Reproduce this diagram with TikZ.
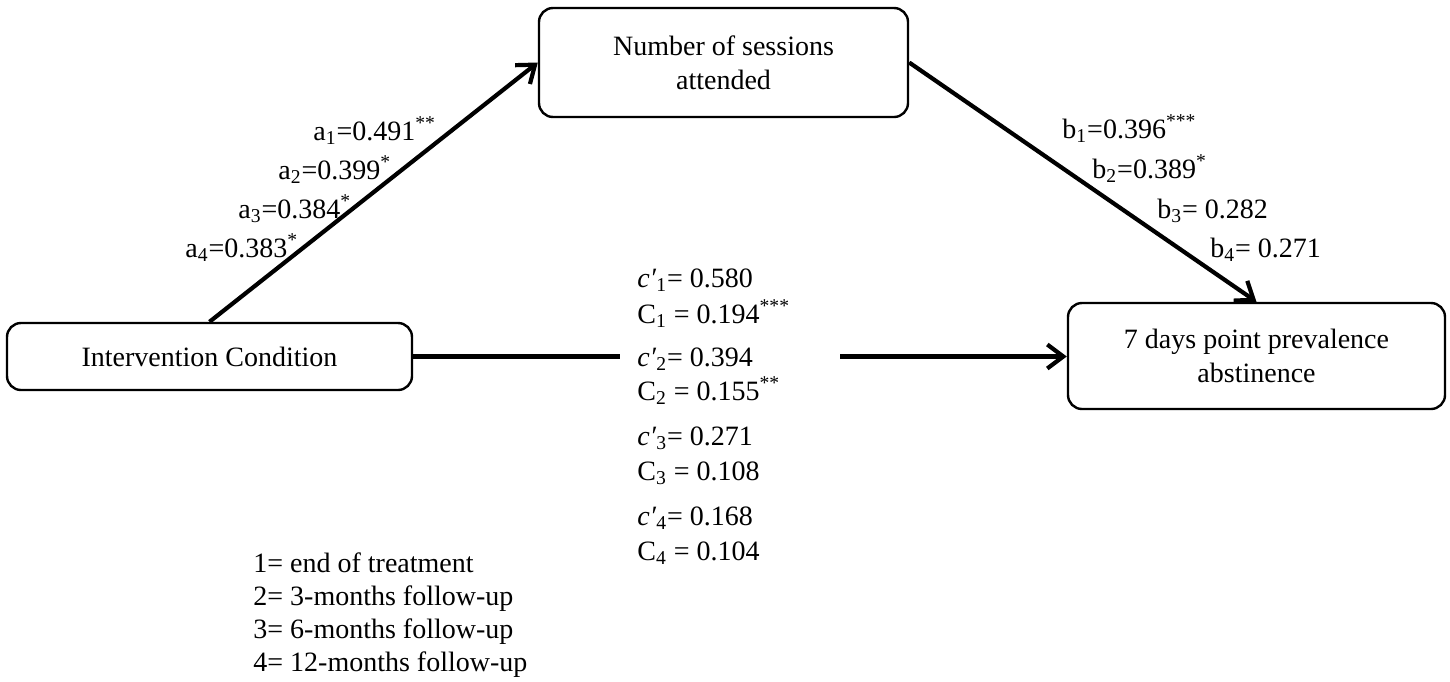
\documentclass[tikz,border=0pt]{standalone}
\usepackage{fontspec}
\setmainfont{Liberation Serif}
\usetikzlibrary{arrows.meta}
\begin{document}
\begin{tikzpicture}[x=0.5pt,y=-0.5pt,
  every node/.style={font=\fontsize{14}{17}\selectfont, inner sep=0pt},
  box/.style={draw, line width=1.2pt, rounded corners=7pt, align=center},
  lbl/.style={anchor=base west},
  link/.style={line width=2.1pt},
  conn/.style={link, -{Straight Barb[length=8pt,width=12pt]}}]
\useasboundingbox (0,0) rectangle (1450,681);
% boxes
\node[box, minimum width=202.5pt, minimum height=33.5pt] (ic) at (209.5,356.5) {Intervention Condition};
\node[box, minimum width=184.5pt, minimum height=54.5pt] (sess) at (723.5,62.5) {Number of sessions\\attended};
\node[box, minimum width=188.5pt, minimum height=53pt] (abst) at (1256.5,356) {7 days point prevalence\\abstinence};
% connectors
\draw[conn] (ic.north) -- (sess.west);
\draw[conn] (sess.east) -- (abst.north);
\coordinate (g1) at (620,356.5);
\coordinate (g2) at (840,356.5);
\draw[link] (ic.east) -- (g1);
\draw[conn] (g2) -- (g2 -| abst.west);
% a labels
\node[lbl] (a1) at (313,140) {a\textsubscript{1}=0.491\textsuperscript{**}};
\node[lbl] (a2) at (278,179) {a\textsubscript{2}=0.399\textsuperscript{*}};
\node[lbl] (a3) at (238,218) {a\textsubscript{3}=0.384\textsuperscript{*}};
\node[lbl] (a4) at (185,257) {a\textsubscript{4}=0.383\textsuperscript{*}};
% b labels
\node[lbl] (b1) at (1062,138) {b\textsubscript{1}=0.396\textsuperscript{***}};
\node[lbl] (b2) at (1092,178) {b\textsubscript{2}=0.389\textsuperscript{*}};
\node[lbl] (b3) at (1157,218) {b\textsubscript{3}= 0.282};
\node[lbl] (b4) at (1210,257) {b\textsubscript{4}= 0.271};
% c labels
\node[lbl] (cp1) at (637,287) {\textit{c′}\textsubscript{1}= 0.580};
\node[lbl] (cc1) at (637,323) {C\textsubscript{1} = 0.194\textsuperscript{***}};
\node[lbl] (cp2) at (637,366) {\textit{c′}\textsubscript{2}= 0.394};
\node[lbl] (cc2) at (637,400) {C\textsubscript{2} = 0.155\textsuperscript{**}};
\node[lbl] (cp3) at (637,445) {\textit{c′}\textsubscript{3}= 0.271};
\node[lbl] (cc3) at (637,480) {C\textsubscript{3} = 0.108};
\node[lbl] (cp4) at (637,525) {\textit{c′}\textsubscript{4}= 0.168};
\node[lbl] (cc4) at (637,560) {C\textsubscript{4} = 0.104};
% legend
\node[lbl] (l1) at (253,572) {1= end of treatment};
\node[lbl] (l2) at (253,605) {2= 3-months follow-up};
\node[lbl] (l3) at (253,638) {3= 6-months follow-up};
\node[lbl] (l4) at (253,671) {4= 12-months follow-up};
\end{tikzpicture}
\end{document}
